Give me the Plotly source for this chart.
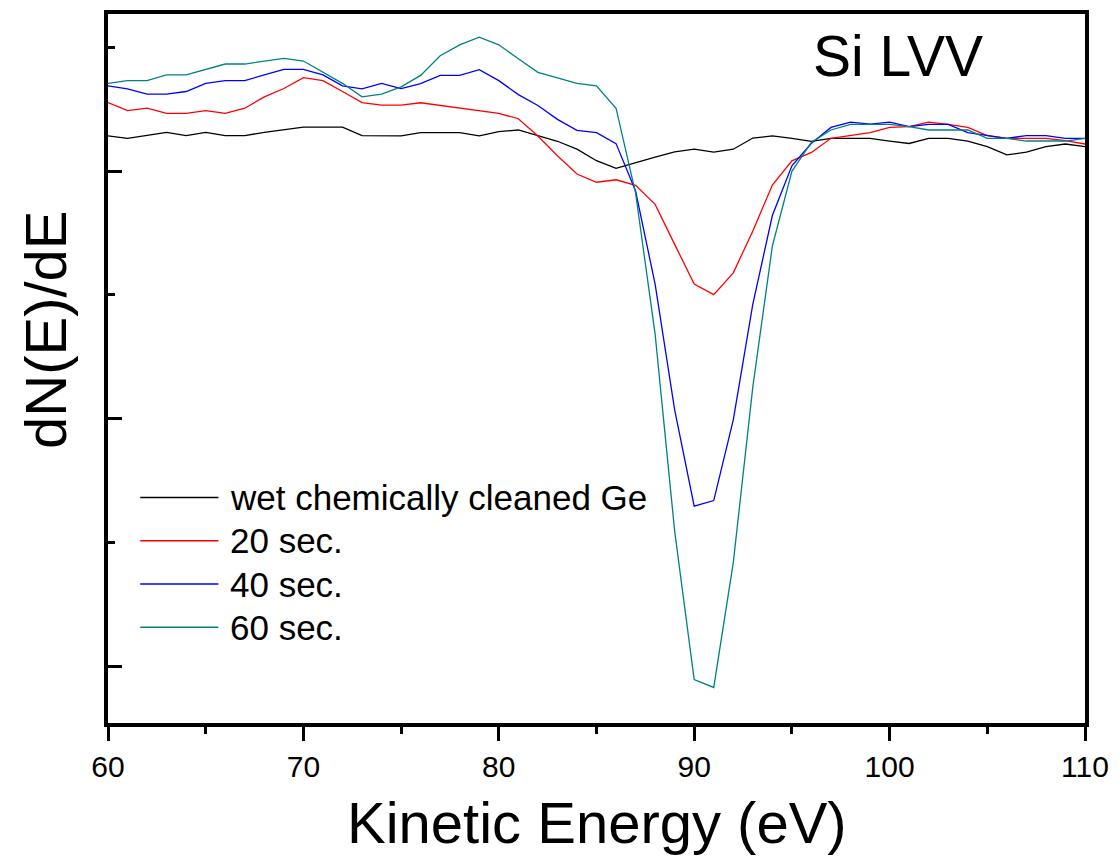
import plotly.graph_objects as go

energy = list(range(60, 111))

wet_clean = [4.284, 4.265, 4.289, 4.313, 4.287, 4.313, 4.287, 4.287, 4.313, 4.332,
             4.356, 4.356, 4.356, 4.287, 4.287, 4.284, 4.311, 4.311, 4.311, 4.284,
             4.319, 4.332, 4.284, 4.241, 4.177, 4.084, 4.022, 4.064, 4.112, 4.155,
             4.177, 4.153, 4.177, 4.267, 4.284, 4.265, 4.241, 4.265, 4.265, 4.265,
             4.243, 4.223, 4.265, 4.265, 4.243, 4.198, 4.131, 4.153, 4.198, 4.219,
             4.198]

sec20 = [4.554, 4.488, 4.508, 4.466, 4.466, 4.488, 4.466, 4.508, 4.600, 4.667,
         4.755, 4.731, 4.643, 4.554, 4.533, 4.533, 4.552, 4.530, 4.506, 4.488,
         4.466, 4.423, 4.284, 4.124, 3.976, 3.910, 3.930, 3.885, 3.731, 3.408,
         3.087, 3.002, 3.178, 3.516, 3.888, 4.083, 4.151, 4.265, 4.287, 4.311,
         4.353, 4.359, 4.396, 4.378, 4.353, 4.287, 4.265, 4.265, 4.265, 4.247,
         4.219]

sec40 = [4.688, 4.664, 4.621, 4.621, 4.643, 4.709, 4.731, 4.731, 4.777, 4.822,
         4.822, 4.777, 4.688, 4.664, 4.709, 4.667, 4.707, 4.773, 4.773, 4.819,
         4.731, 4.618, 4.530, 4.418, 4.329, 4.311, 4.222, 3.839, 3.087, 2.072,
         1.293, 1.339, 1.990, 2.926, 3.641, 4.043, 4.225, 4.353, 4.396, 4.380,
         4.396, 4.359, 4.378, 4.378, 4.311, 4.287, 4.265, 4.287, 4.287, 4.265,
         4.265]

sec60 = [4.709, 4.731, 4.731, 4.777, 4.777, 4.822, 4.865, 4.865, 4.889, 4.910,
         4.889, 4.798, 4.709, 4.600, 4.621, 4.680, 4.773, 4.932, 5.020, 5.082,
         5.020, 4.908, 4.798, 4.753, 4.709, 4.688, 4.508, 3.823, 2.683, 1.092,
         -0.107, -0.171, 0.838, 2.257, 3.395, 3.998, 4.233, 4.332, 4.378, 4.378,
         4.378, 4.359, 4.332, 4.332, 4.332, 4.265, 4.265, 4.243, 4.243, 4.243,
         4.265]

names = ["wet chemically cleaned Ge", "20 sec.", "40 sec.", "60 sec."]
colors = ["#000000", "#ff0000", "#0000ff", "#008080"]
series = [wet_clean, sec20, sec40, sec60]

FONT = "Arial, Liberation Sans, sans-serif"

fig = go.Figure()
for name, col, ys in zip(names, colors, series):
    fig.add_trace(go.Scatter(x=energy, y=ys, mode="lines", name=name,
                             line=dict(color=col, width=1.3), showlegend=False))

# manual legend
leg_y = [0.318, 0.257, 0.196, 0.135]
for name, col, yy in zip(names, colors, leg_y):
    fig.add_shape(type="line", xref="paper", yref="paper",
                  x0=0.033, x1=0.113, y0=yy, y1=yy,
                  line=dict(color=col, width=1.5))
    fig.add_annotation(xref="paper", yref="paper", x=0.123, y=yy,
                       text=name, showarrow=False, xanchor="left", yanchor="middle",
                       font=dict(family=FONT, size=35, color="black"))

fig.add_annotation(xref="paper", yref="paper", x=0.809, y=0.941, text="Si LVV",
                   showarrow=False, xanchor="center", yanchor="middle",
                   font=dict(family=FONT, size=57, color="black"))

fig.add_annotation(xref="paper", yref="paper", x=-0.064, y=0.555, text="dN(E)/dE",
                   showarrow=False, textangle=-90, xanchor="center", yanchor="middle",
                   font=dict(family=FONT, size=58, color="black"))

fig.add_annotation(xref="paper", yref="paper", x=0.5, y=-0.14,
                   text="Kinetic Energy (eV)",
                   showarrow=False, xanchor="center", yanchor="middle",
                   font=dict(family=FONT, size=58, color="black"))

fig.update_layout(
    width=1119, height=865,
    margin=dict(l=108, r=32, t=10, b=142),
    paper_bgcolor="white", plot_bgcolor="white",
    font=dict(family=FONT, color="black"),
    xaxis=dict(range=[60, 110], tick0=60, dtick=10, ticks="outside", ticklen=14,
               tickwidth=3, tickcolor="black", showline=True, linewidth=3.5,
               linecolor="black", mirror=True, showgrid=False, zeroline=False,
               tickfont=dict(family=FONT, size=30, color="black"),
               minor=dict(dtick=5, ticks="outside", ticklen=7, tickwidth=3,
                          tickcolor="black", showgrid=False)),
    yaxis=dict(range=[-0.458, 5.269], tick0=0, dtick=2, ticks="inside", ticklen=14,
               tickwidth=3, tickcolor="black", showline=True, linewidth=3.5,
               linecolor="black", mirror=True, showgrid=False, zeroline=False,
               showticklabels=False,
               minor=dict(dtick=1, ticks="inside", ticklen=7, tickwidth=3,
                          tickcolor="black", showgrid=False)),
)

fig.write_html("out.html")
